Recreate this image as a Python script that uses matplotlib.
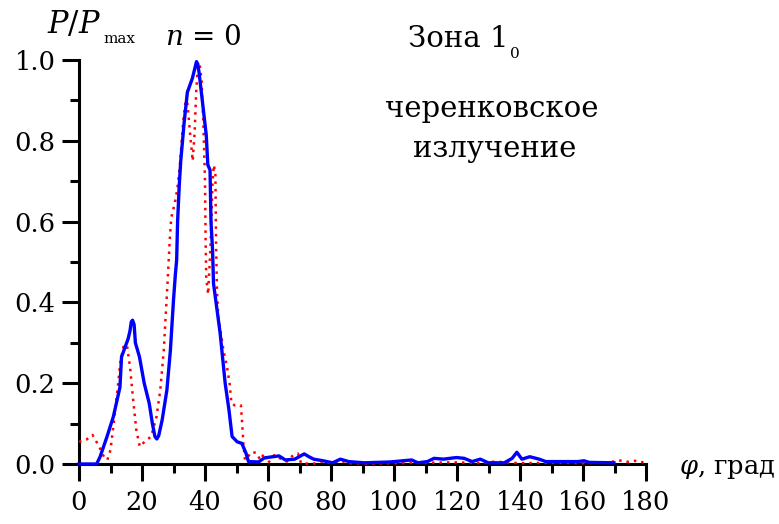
import matplotlib
matplotlib.use("Agg")
import matplotlib.pyplot as plt
from matplotlib.ticker import MultipleLocator

plt.rcParams['font.family'] = ['DejaVu Serif']
plt.rcParams['mathtext.fontset'] = 'dejavuserif'

# ---- data (angle in degrees, normalised power) ----
blue_phi = [0, 5.6, 6.7, 8.9, 10.9, 13.0, 13.5, 15.6, 16.2, 16.6, 17.0, 17.5, 17.9, 19.2,
            20.7, 22.3, 23.3, 24.1, 24.7, 25.3, 26.4, 27.9, 29.0, 30.0, 30.6, 31.0, 31.3,
            31.8, 32.3, 33.4, 34.4, 36.0, 36.8, 37.3, 37.7, 38.1, 39.3, 40.4, 40.9, 41.6,
            41.9, 42.4, 42.7, 44.8, 46.4, 47.6, 48.6, 50.2, 51.7, 53.0, 53.8, 57.0, 58.8,
            61.5, 63.5, 65.5, 68.5, 71.5, 73.0, 74.5, 77.5, 80.5, 83.0, 85.6, 90.5, 98.7,
            105.6, 107.6, 110.6, 112.7, 115.7, 119.8, 122.3, 124.8, 127.4, 129.9, 135.0,
            137.5, 139.0, 140.6, 143.1, 146.1, 148.2, 152.2, 158.3, 160.3, 162.0, 169.8]
blue_p = [0, 0, 0.018, 0.068, 0.117, 0.19, 0.265, 0.31, 0.33, 0.352, 0.356, 0.345, 0.30, 0.265,
          0.20, 0.15, 0.10, 0.068, 0.062, 0.07, 0.109, 0.183, 0.28, 0.406, 0.47, 0.505, 0.60,
          0.686, 0.75, 0.847, 0.92, 0.955, 0.98, 0.996, 0.99, 0.97, 0.889, 0.814, 0.74, 0.728,
          0.60, 0.53, 0.447, 0.324, 0.20, 0.134, 0.068, 0.055, 0.051, 0.027, 0.006, 0.005, 0.015,
          0.018, 0.02, 0.01, 0.012, 0.025, 0.018, 0.012, 0.008, 0.003, 0.012, 0.006, 0.003, 0.005,
          0.01, 0.003, 0.006, 0.014, 0.012, 0.016, 0.014, 0.006, 0.012, 0.003, 0.003,
          0.014, 0.029, 0.012, 0.018, 0.012, 0.006, 0.006, 0.006, 0.008, 0.004, 0.003]

red_phi = [0, 2.3, 4.3, 6.4, 7.9, 9.0, 10.0, 11.0, 12.1, 13.1, 14.1, 15.2, 16.2, 17.2, 18.2,
           19.3, 20.8, 22.9, 24.6, 25.8, 26.9, 27.5, 28.1, 28.8, 29.3, 30.4, 31.2, 32.0, 33.1,
           33.8, 34.3, 34.9, 35.4, 36.1, 36.7, 37.2, 37.6, 38.3, 38.9, 39.5, 40.0, 40.2, 40.4,
           41.0, 41.8, 42.4, 42.8, 43.3, 43.5, 43.8, 44.2, 45.9, 47.0, 47.8, 48.4, 49.5, 51.4,
           51.8, 52.2, 52.7, 53.8, 54.8, 56.5, 57.5, 58.8, 60.0, 62.0, 63.8, 66.0, 68.0, 69.5,
           70.5, 74.0, 77.0, 80.0, 83.0, 86.0, 92.0, 100.0, 110.0, 120.0, 128.0, 132.0, 140.0,
           150.0, 160.0, 168.0, 170.5, 172.5, 174.5, 176.5, 178.0, 180.0]
red_p = [0.055, 0.06, 0.072, 0.043, 0.018, 0.01, 0.035, 0.10, 0.175, 0.25, 0.29, 0.295, 0.24,
         0.158, 0.084, 0.043, 0.055, 0.068, 0.117, 0.183, 0.28, 0.365, 0.447, 0.554, 0.61,
         0.645, 0.68, 0.736, 0.85, 0.895, 0.90, 0.85, 0.806, 0.75, 0.82, 0.92, 0.97, 0.99,
         0.95, 0.84, 0.70, 0.55, 0.46, 0.42, 0.55, 0.70, 0.74, 0.72, 0.55, 0.43, 0.365, 0.28,
         0.24, 0.20, 0.15, 0.145, 0.145, 0.10, 0.05, 0.01, 0.02, 0.03, 0.027, 0.01, 0.026,
         0.002, 0.022, 0.014, 0.006, 0.022, 0.026, 0.002, 0.0, 0.006, 0.002, 0.008, 0.002,
         0.001, 0.002, 0.003, 0.004, 0.002, 0.006, 0.002, 0.003, 0.002, 0.004, 0.007, 0.009,
         0.005, 0.008, 0.004, 0.005]

x_ticks = [0, 20, 40, 60, 80, 100, 120, 140, 160, 180]
y_ticks = [0.0, 0.2, 0.4, 0.6, 0.8, 1.0]
y_ticklabels = ["0.0", "0.2", "0.4", "0.6", "0.8", "1.0"]

W, H = 779, 524
fig = plt.figure(figsize=(W / 100, H / 100), dpi=100)
ax = fig.add_axes([79 / W, 1 - 464 / H, (646 - 79) / W, (464 - 60) / H])


def fx(px):
    return px / W


def fy(py):
    return 1 - py / H


ax.plot(red_phi, red_p, color='#ff0000', lw=1.8, linestyle=(0, (1, 2)),
        dash_capstyle='butt', clip_on=False, zorder=3)
ax.plot(blue_phi, blue_p, color='#0000ff', lw=2.4, clip_on=False, zorder=4,
        solid_joinstyle='round')

ax.set_xlim(0, 180)
ax.set_ylim(0, 1.0)
for s in ['top', 'right']:
    ax.spines[s].set_visible(False)
for s in ['left', 'bottom']:
    ax.spines[s].set_linewidth(2.2)

ax.set_xticks(x_ticks)
ax.set_yticks(y_ticks)
ax.set_yticklabels(y_ticklabels)
ax.xaxis.set_minor_locator(MultipleLocator(10))
ax.yaxis.set_minor_locator(MultipleLocator(0.1))
ax.tick_params(axis='both', which='major', direction='out', length=12, width=2.2,
               labelsize=18.5)
ax.tick_params(axis='both', which='minor', direction='out', length=6.5, width=2.2)
ax.tick_params(axis='y', which='major', pad=5)
ax.tick_params(axis='x', which='major', pad=7)

# labels / annotations
fig.text(fx(47), fy(33), r'$P/P$', fontsize=22, ha='left', va='baseline')
fig.text(fx(103), fy(43), 'max', fontsize=11, ha='left', va='baseline')
fig.text(fx(165), fy(45), r'$n$ = 0', fontsize=20, ha='left', va='baseline')
fig.text(fx(408), fy(47), 'Зона 1', fontsize=21, ha='left', va='baseline')
fig.text(fx(510), fy(58), '0', fontsize=11, ha='left', va='baseline')
fig.text(fx(492), fy(117), 'черенковское', fontsize=21, ha='center', va='baseline')
fig.text(fx(495), fy(157), 'излучение', fontsize=21, ha='center', va='baseline')
fig.text(fx(775), fy(474), r'$\varphi$, град', fontsize=18.5, ha='right', va='baseline')

fig.savefig('out.png', dpi=100)
